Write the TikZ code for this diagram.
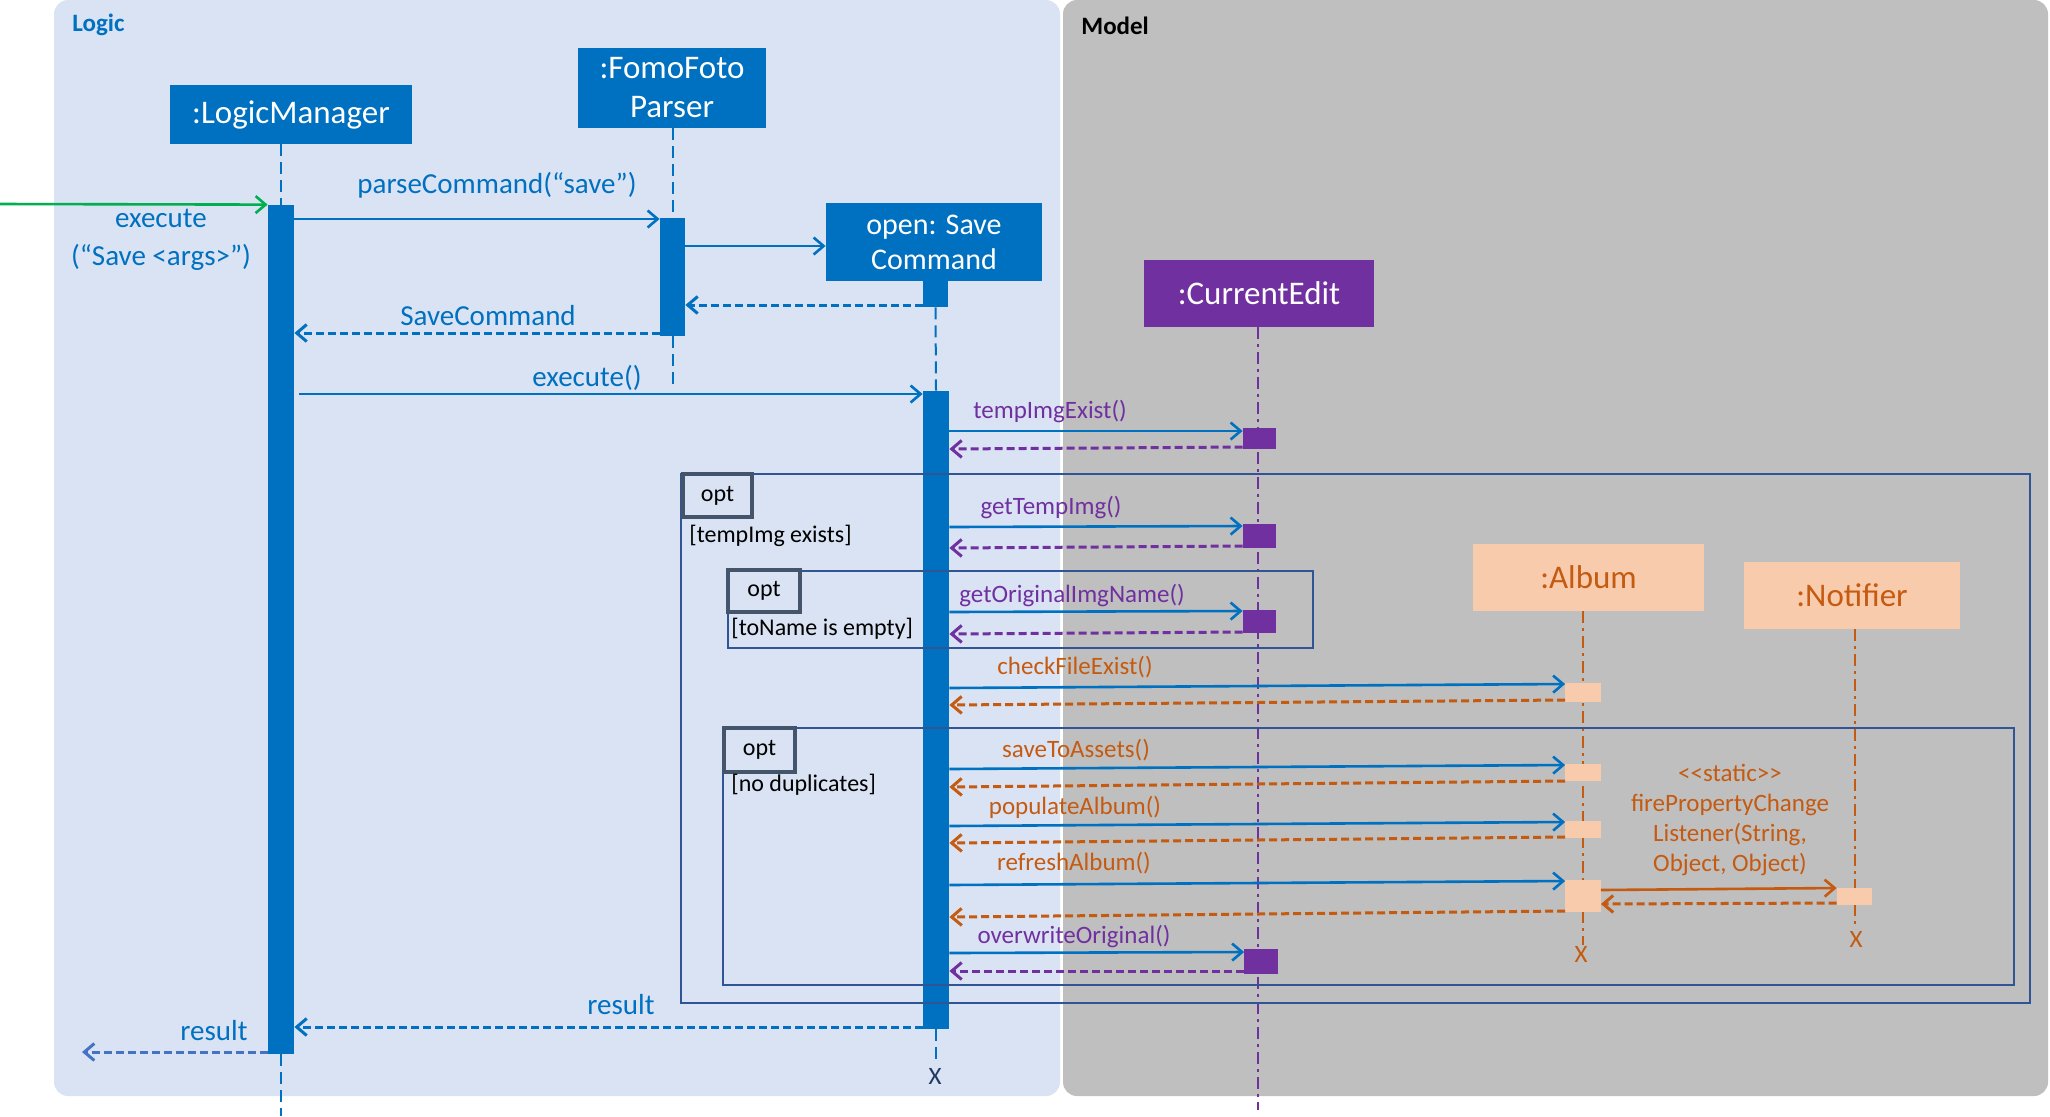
\documentclass[tikz,border=0pt]{standalone}
\usepackage{fontspec}
\setmainfont{Carlito}[Ligatures=TeXOff]
\usetikzlibrary{arrows.meta}

\definecolor{logicbg}{HTML}{DAE3F3}
\definecolor{modelbg}{HTML}{BFBFBF}
\definecolor{lblue}{HTML}{0070C0}
\definecolor{lpurple}{HTML}{7030A0}
\definecolor{lorange}{HTML}{C55A11}
\definecolor{peach}{HTML}{F8CBAD}
\definecolor{framec}{HTML}{2F5597}
\definecolor{tagc}{HTML}{44546A}
\definecolor{lgreen}{HTML}{00B050}
\definecolor{resblue}{HTML}{4472C4}
\definecolor{xnavy}{HTML}{1F3864}

\newcommand\fntTitle{\fontsize{16.5}{19.5}\selectfont}
\newcommand\fntSub{\fontsize{15}{17.5}\selectfont}
\newcommand\fntMsg{\fontsize{14.5}{18}\selectfont}
\newcommand\fntSmall{\fontsize{12.5}{15}\selectfont}
\newcommand\fntGuard{\fontsize{12}{14}\selectfont}

\begin{document}
\begin{tikzpicture}[x=0.5pt,y=-0.5pt,
  objbox/.style={fill=lblue,text=white,inner sep=0pt,align=center,font=\fntTitle},
  peachbox/.style={fill=peach,text=lorange,inner sep=0pt,align=center,font=\fntTitle},
  actbar/.style={fill=lblue,inner sep=0pt,minimum width=13pt},
  cebar/.style={fill=lpurple,inner sep=0pt,minimum width=16.5pt},
  albar/.style={fill=peach,inner sep=0pt,minimum width=17.5pt},
  lifeline/.style={line width=1pt,dash pattern=on 6pt off 3pt},
  lifedot/.style={line width=1pt,dash pattern=on 6pt off 2.5pt on 1.5pt off 2.5pt},
  call/.style={line width=1.3pt,-{Straight Barb[length=5pt,width=8.5pt]}},
  ret/.style={line width=1.5pt,dash pattern=on 4pt off 2pt,-{Straight Barb[length=5pt,width=8.5pt]}},
  msg/.style={inner sep=0pt,font=\fntMsg,text=lblue},
  sub/.style={inner sep=0pt,font=\fntSmall},
  frame/.style={draw=framec,line width=1pt},
  tag/.style={draw=tagc,line width=2.25pt,fill=logicbg,inner sep=0pt,font=\fntGuard},
  guard/.style={inner sep=0pt,anchor=west,font=\fntGuard},
  xmark/.style={inner sep=0pt,font=\fntSmall}
]
\useasboundingbox (0,0) rectangle (2050,1116);

% packages
\fill[logicbg,rounded corners=7pt] (54,0) rectangle (1060,1096);
\fill[modelbg,rounded corners=7pt] (1063,0) rectangle (2048,1096);
\node[anchor=west,inner sep=0pt,font=\bfseries\fntSmall,text=lblue] (logiclbl) at (72,25) {Logic};
\node[anchor=west,inner sep=0pt,font=\bfseries\fntSmall] (modellbl) at (1081,26) {Model};

% participants
\node[objbox,minimum width=121pt,minimum height=29.5pt] (lm) at (291,114.5) {:LogicManager};
\node[objbox,minimum width=94pt,minimum height=40pt] (ffp) at (672,88) {:FomoFoto\\Parser};
\node[objbox,minimum width=108pt,minimum height=39pt,font=\fntSub] (sc) at (934,242) {open: Save\\Command};
\node[objbox,fill=lpurple,minimum width=115pt,minimum height=33.5pt] (ce) at (1259,293.5) {:CurrentEdit};
\node[peachbox,minimum width=115.5pt,minimum height=33.5pt] (album) at (1588.5,577.5) {:Album};
\node[peachbox,minimum width=108pt,minimum height=33.5pt] (notif) at (1852,595.5) {:Notifier};

% activation bars (placed first so lifelines can refer to them)
\node[actbar,minimum height=424.5pt] (lmbar) at (281,629.5) {};
\node[actbar,minimum width=12.5pt,minimum height=59pt] (ffpbar) at (672.5,277) {};
\node[actbar,minimum width=12.5pt,minimum height=13pt] (scstub) at (935.5,294) {};
\node[actbar,minimum height=319pt] (scbar) at (936,710) {};
\node[cebar,minimum height=10.5pt] (ce1) at (1259.5,438.5) {};
\node[cebar,minimum height=12pt] (ce2) at (1259.5,536) {};
\node[cebar,minimum height=11.5pt] (ce3) at (1259.5,621.5) {};
\node[cebar,minimum height=12.5pt] (ce4) at (1261,961.5) {};
\node[albar,minimum height=9.5pt] (al1) at (1583,692.5) {};
\node[albar,minimum height=8.5pt] (al2) at (1583,772.5) {};
\node[albar,minimum height=8.5pt] (al3) at (1583,829.5) {};
\node[albar,minimum height=16pt] (al4) at (1583,896) {};
\node[albar,minimum height=8.5pt] (nt1) at (1854.5,896.5) {};

% lifeline ends
\coordinate (lmend) at (281,1116);
\coordinate (ffpend) at (672.5,385);
\coordinate (scend) at (936,1060);
\coordinate (ceend) at (1258,1110);
\coordinate (alend) at (1583,945);
\coordinate (ntend) at (1854.5,928);

% lifelines
\draw[lifeline,lblue] (lm.south -| lmbar) -- (lmbar.north);
\draw[lifeline,lblue] (lmbar.south) -- (lmend);
\draw[lifeline,lblue] (ffp.south -| ffpbar) -- (ffpbar.north);
\draw[lifeline,lblue] (ffpbar.south) -- (ffpend);
\draw[lifeline,lblue] (scstub.south) -- (scbar.north);
\draw[lifeline,lblue] (scbar.south) -- (scend);
\draw[lifedot,lpurple] (ce.south -| ceend) -- (ceend);
\draw[lifedot,lorange] (album.south -| alend) -- (alend);
\draw[lifedot,lorange] (notif.south -| ntend) -- (ntend);

% redraw bars over the lifelines
\foreach \b in {lmbar,ffpbar,scstub,scbar}{\fill[lblue] (\b.north west) rectangle (\b.south east);}
\foreach \b in {ce1,ce2,ce3,ce4}{\fill[lpurple] (\b.north west) rectangle (\b.south east);}
\foreach \b in {al1,al2,al3,al4,nt1}{\fill[peach] (\b.north west) rectangle (\b.south east);}

% combined fragments, drawn over the bars
\draw[frame] (681,474) rectangle (2030,1003);
\draw[frame] (728,571) rectangle (1313,648);
\draw[frame] (723,728) rectangle (2014,985);
\node[tag,minimum width=34.5pt,minimum height=21.5pt] (tagA) at (717.5,495.5) {opt};
\node[tag,minimum width=36pt,minimum height=21pt] (tagB) at (764,591) {opt};
\node[tag,minimum width=35.5pt,minimum height=22pt] (tagC) at (759.5,750) {opt};
\node[guard] (gA) at (689,536) {[tempImg exists]};
\node[guard] (gB) at (731,629) {[toName is empty]};
\node[guard] (gC) at (731,785) {[no duplicates]};

% destruction marks
\node[xmark,text=xnavy] (scx) at (935,1076) {X};
\node[xmark,text=lorange] (alx) at (1581,954) {X};
\node[xmark,text=lorange] (ntx) at (1856,939) {X};

% incoming call
\coordinate (caller) at (0,204);
\draw[call,lgreen] (caller) -- (lmbar.north west);
\node[msg,align=center] (execlbl) at (161,240) {execute\\[1pt](“Save <args>”)};

% Logic messages
\draw[call,lblue] (lmbar.east |- 0,219) -- (ffpbar.west |- 0,219);
\node[msg] (pclbl) at (497,185) {parseCommand(“save”)};
\draw[call,lblue] (ffpbar.east |- 0,246) -- (sc.west |- 0,246);
\draw[ret,lblue] (scstub.west |- 0,305) -- (ffpbar.east |- 0,305);
\draw[ret,lblue] (ffpbar.west |- 0,333) -- (lmbar.east |- 0,333);
\node[msg] (sclbl) at (488,316) {SaveCommand};
\draw[call,lblue] ([xshift=2.5pt]lmbar.east |- 0,394) -- (scbar.west |- 0,394);
\node[msg] (exlbl) at (587,378) {execute()};

% CurrentEdit messages
\draw[call,lblue] (scbar.east |- 0,431) -- (ce1.west |- 0,431);
\draw[ret,lpurple] (ce1.west |- 0,447) -- (scbar.east |- 0,449);
\node[sub,text=lpurple] (l1) at (1050,411) {tempImgExist()};
\draw[call,lblue] (scbar.east |- 0,527) -- (ce2.west |- 0,526);
\draw[ret,lpurple] (ce2.west |- 0,546) -- (scbar.east |- 0,548);
\node[sub,text=lpurple] (l2) at (1051,507) {getTempImg()};
\draw[call,lblue] (scbar.east |- 0,612) -- (ce3.west |- 0,611);
\draw[ret,lpurple] (ce3.west |- 0,632) -- (scbar.east |- 0,634);
\node[sub,text=lpurple] (l3) at (1072,595) {getOriginalImgName()};

% Album messages
\draw[call,lblue] (scbar.east |- 0,688) -- (al1.west |- 0,684);
\draw[ret,lorange] (al1.west |- 0,700) -- (scbar.east |- 0,705);
\node[sub,text=lorange] (l4) at (1075,667) {checkFileExist()};
\draw[call,lblue] (scbar.east |- 0,769) -- (al2.west |- 0,765);
\draw[ret,lorange] (al2.west |- 0,781) -- (scbar.east |- 0,787);
\node[sub,text=lorange] (l5) at (1076,750) {saveToAssets()};
\draw[call,lblue] (scbar.east |- 0,826) -- (al3.west |- 0,822);
\draw[ret,lorange] (al3.west |- 0,837) -- (scbar.east |- 0,843);
\node[sub,text=lorange] (l6) at (1075,807) {populateAlbum()};
\draw[call,lblue] (scbar.east |- 0,885) -- (al4.west |- 0,881);
\draw[ret,lorange] (al4.west |- 0,911) -- (scbar.east |- 0,917);
\node[sub,text=lorange] (l7) at (1074,863) {refreshAlbum()};

% Notifier messages
\draw[call,lorange] (al4.east |- 0,890) -- (nt1.west |- 0,888);
\draw[ret,lorange] (nt1.west |- 0,903) -- (al4.east |- 0,904);
\node[sub,text=lorange,align=center] (l8) at (1730,820)
  {<<static>>\\firePropertyChange\\Listener(String,\\Object, Object)};

% final CurrentEdit message
\draw[call,lblue] (scbar.east |- 0,953) -- (ce4.west |- 0,952);
\draw[ret,lpurple] (ce4.west |- 0,971) -- (scbar.east |- 0,971);
\node[sub,text=lpurple] (l9) at (1074,936) {overwriteOriginal()};

% results
\draw[ret,lblue] (scbar.west |- 0,1027) -- (lmbar.east |- 0,1027);
\node[msg] (res1) at (621,1005) {result};
\coordinate (resend) at (82,1052);
\draw[ret,resblue] (lmbar.west |- 0,1052) -- (resend);
\node[msg] (res2) at (214,1031) {result};
\end{tikzpicture}
\end{document}
